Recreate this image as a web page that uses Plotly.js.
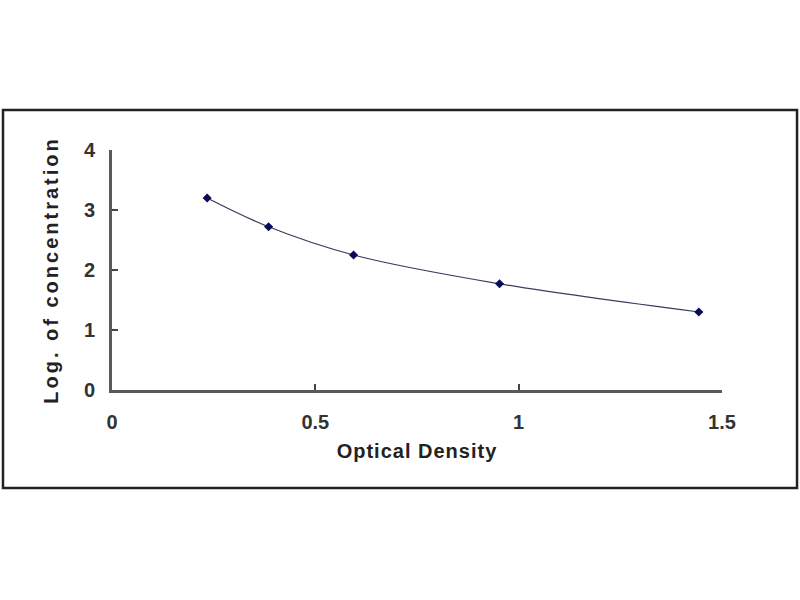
<!DOCTYPE html>
<html>
<head>
<meta charset="utf-8">
<script src="https://cdn.plot.ly/plotly-3.0.1.min.js"></script>
<style>
html,body{margin:0;padding:0;background:#fff;}
#chart{width:800px;height:600px;}
.ytitle{letter-spacing:3px;}
.xtitle{letter-spacing:1px;}
</style>
</head>
<body>
<div id="chart"></div>
<script>
var opticalDensity = [0.234, 0.385, 0.594, 0.953, 1.443];
var logConcentration = [3.2, 2.72, 2.25, 1.77, 1.3];
var xTickVals = [0, 0.5, 1, 1.5];
var xTickText = ['0', '0.5', '1', '1.5'];
var yTickVals = [0, 1, 2, 3, 4];
var yTickText = ['0', '1', '2', '3', '4'];

var fontFam = '"Liberation Sans", Arial, sans-serif';

var trace = {
  x: opticalDensity,
  y: logConcentration,
  mode: 'lines+markers',
  type: 'scatter',
  line: {shape: 'spline', smoothing: 1, color: '#3a3a5a', width: 1.2},
  marker: {symbol: 'diamond', size: 7, color: '#0a0a5a'},
  showlegend: false,
  cliponaxis: false
};

var layout = {
  width: 800, height: 600,
  paper_bgcolor: '#fff', plot_bgcolor: '#fff',
  margin: {l: 112, r: 78, t: 150, b: 210},
  xaxis: {
    range: [0, 1.5], tickvals: xTickVals, ticktext: xTickText,
    showgrid: false, zeroline: false, showline: true, linecolor: '#5a5a5a', linewidth: 3,
    ticks: 'inside', ticklen: 6, tickwidth: 2, tickcolor: '#444',
    ticklabelstandoff: 12,
    tickfont: {family: fontFam, size: 20, color: '#333', weight: 'bold'},
    title: {text: 'Optical Density', standoff: 12, font: {family: fontFam, size: 20, color: '#222', weight: 'bold'}}
  },
  yaxis: {
    range: [0, 4], tickvals: yTickVals, ticktext: yTickText,
    showgrid: false, zeroline: false, showline: true, linecolor: '#5a5a5a', linewidth: 3,
    ticks: 'inside', ticklen: 6, tickwidth: 2, tickcolor: '#444',
    ticklabelstandoff: 10,
    tickfont: {family: fontFam, size: 20, color: '#333', weight: 'bold'},
    title: {text: 'Log. of concentration', standoff: 20, font: {family: fontFam, size: 20, color: '#222', weight: 'bold'}}
  },
  shapes: [{
    type: 'rect', xref: 'paper', yref: 'paper',
    x0: -0.1787, x1: 1.123, y0: -0.408, y1: 1.1667,
    line: {color: '#222', width: 2.5}, fillcolor: 'rgba(0,0,0,0)', layer: 'below'
  }]
};

Plotly.newPlot('chart', [trace], layout, {displayModeBar: false, staticPlot: true});
</script>
</body>
</html>
